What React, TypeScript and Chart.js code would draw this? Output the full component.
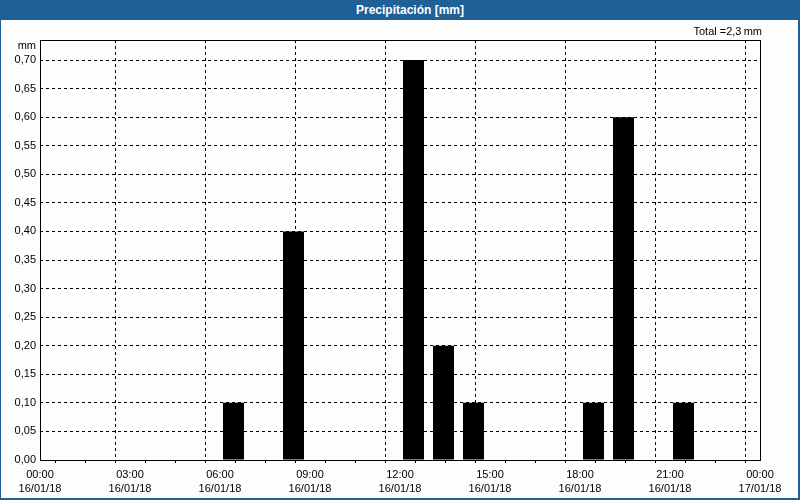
import React, { useEffect, useRef } from "react";
import { Chart, registerables } from "chart.js";

Chart.register(...registerables);

const hours: number[] = [0, 1, 2, 3, 4, 5, 6, 7, 8, 9, 10, 11, 12, 13, 14, 15, 16, 17, 18, 19, 20, 21, 22, 23];
const precipitation: number[] = [0, 0, 0, 0, 0, 0, 0.1, 0, 0.4, 0, 0, 0, 0.7, 0.2, 0.1, 0, 0, 0, 0.1, 0.6, 0, 0.1, 0, 0];
const hourLabels: string[] = ["00:00", "03:00", "06:00", "09:00", "12:00", "15:00", "18:00", "21:00", "00:00"];
const dateLabels: string[] = ["16/01/18", "16/01/18", "16/01/18", "16/01/18", "16/01/18", "16/01/18", "16/01/18", "16/01/18", "17/01/18"];
const yTicks: number[] = [0, 0.05, 0.1, 0.15, 0.2, 0.25, 0.3, 0.35, 0.4, 0.45, 0.5, 0.55, 0.6, 0.65, 0.7];

const TITLE = "Precipitación [mm]";
const UNIT = "mm";
const total = precipitation.reduce((a, b) => a + b, 0);
const TOTAL_TEXT = "Total =" + total.toFixed(1).replace(".", ",") + "\u2009mm";

const FONT = "'Liberation Sans', Arial, sans-serif";
const BLUE = "#1f6197";
const BG = "#fcfdfc";

export default function App() {
  const ref = useRef<HTMLCanvasElement | null>(null);

  useEffect(() => {
    if (!ref.current) return;

    const framePlugin = {
      id: "frame",
      afterDraw(chart: any) {
        const { ctx, chartArea } = chart;
        ctx.save();
        ctx.strokeStyle = "#000";
        ctx.lineWidth = 1;
        ctx.setLineDash([]);
        ctx.strokeRect(
          Math.round(chartArea.left) + 0.5,
          Math.round(chartArea.top) + 0.5,
          Math.round(chartArea.right - chartArea.left),
          Math.round(chartArea.bottom - chartArea.top)
        );
        ctx.fillStyle = "#000";
        ctx.font = "11px " + FONT;
        ctx.textAlign = "right";
        ctx.textBaseline = "middle";
        ctx.fillText(UNIT, chartArea.left - 4, chartArea.top + 6);
        ctx.fillText(TOTAL_TEXT, chartArea.right + 2, chartArea.top - 8);
        ctx.restore();
      },
    };

    const points = hours
      .map((h, i) => ({ x: h + 0.45, y: precipitation[i] }))
      .filter((p) => p.y > 0);

    const chart = new Chart(ref.current, {
      type: "bar",
      data: {
        datasets: [
          {
            label: TITLE,
            data: points,
            backgroundColor: "#000",
            borderWidth: 0,
            inflateAmount: 0,
            barThickness: 21,
          },
        ],
      },
      options: {
        animation: false,
        responsive: false,
        maintainAspectRatio: false,
        layout: { padding: { left: 0, top: 40, right: 40, bottom: 0 } },
        plugins: {
          legend: { display: false },
          tooltip: { enabled: false },
          title: { display: false },
        },
        scales: {
          x: {
            type: "linear",
            min: 0,
            max: 24,
            offset: false,
            afterFit: (s: any) => {
              s.height = 40;
            },
            ticks: {
              stepSize: 1,
              autoSkip: false,
              maxRotation: 0,
              minRotation: 0,
              padding: 4,
              color: "#000",
              font: { family: FONT, size: 11, lineHeight: 1.36 },
              callback: (v: any) => {
                const n = Number(v);
                if (n % 3 !== 0) return "";
                const k = n / 3;
                return [hourLabels[k], dateLabels[k]];
              },
            },
            grid: {
              color: (c: any) => (c.tick && c.tick.value % 3 === 0 ? "#000" : "rgba(0,0,0,0)"),
              lineWidth: 1,
              tickColor: "#000",
              tickLength: 3,
              tickBorderDash: [],
              drawTicks: true,
            },
            border: { display: false, dash: [3, 3] },
          },
          y: {
            type: "linear",
            min: 0,
            max: 0.735,
            afterFit: (s: any) => {
              s.width = 40;
            },
            afterBuildTicks: (s: any) => {
              s.ticks = yTicks.map((v) => ({ value: v }));
            },
            ticks: {
              padding: 4,
              color: "#000",
              font: { family: FONT, size: 11 },
              callback: (v: any) => Number(v).toFixed(2).replace(".", ","),
            },
            grid: {
              color: "#000",
              lineWidth: 1,
              drawTicks: false,
            },
            border: { display: false, dash: [3, 3] },
          },
        },
      },
      plugins: [framePlugin],
    });

    return () => chart.destroy();
  }, []);

  return (
    <div
      style={{
        position: "fixed",
        left: 0,
        top: 0,
        width: 800,
        height: 500,
        background: BLUE,
        overflow: "hidden",
      }}
    >
      <div
        style={{
          position: "absolute",
          left: 0,
          top: 0,
          width: 800,
          height: 20,
          color: "#fff",
          fontFamily: FONT,
          fontWeight: "bold",
          fontSize: 12,
          lineHeight: "20px",
          textAlign: "center",
        }}
      >
        <span style={{ position: "relative", left: 10 }}>{TITLE}</span>
      </div>
      <div
        style={{
          position: "absolute",
          left: 1,
          top: 20,
          width: 797,
          height: 478,
          background: BG,
        }}
      />
      <canvas
        ref={ref}
        width={800}
        height={500}
        style={{ position: "absolute", left: 0, top: 0, width: 800, height: 500 }}
      />
    </div>
  );
}
